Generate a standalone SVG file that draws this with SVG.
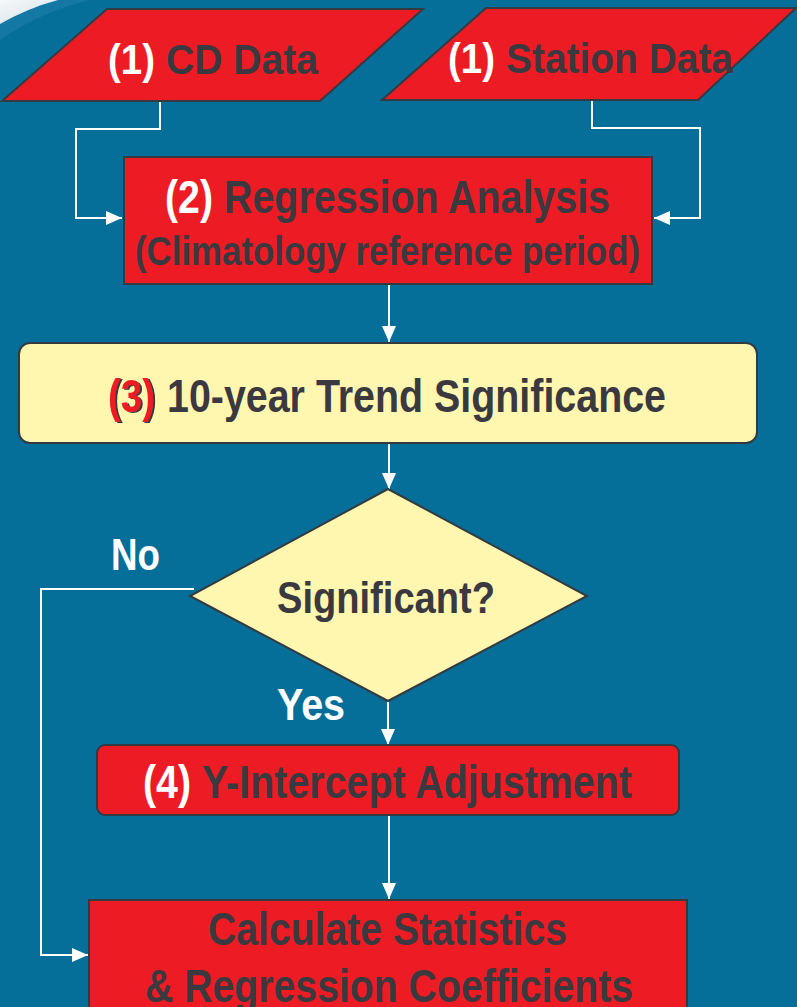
<svg xmlns="http://www.w3.org/2000/svg" width="797" height="1007" viewBox="0 0 797 1007">
<defs>
<style>
.bg{fill:#066f99}
.red{fill:#ed1c24;stroke:#333a40;stroke-width:2}
.yel{fill:#fff6b0;stroke:#333a40;stroke-width:2}
.t{font-family:"Liberation Sans",Arial,sans-serif;font-weight:bold;fill:#3a393f}
.w{fill:#ffffff}
.r{fill:#ed1c24}
.lbl{font-family:"Liberation Sans",Arial,sans-serif;font-weight:bold;fill:#ffffff}
.c{fill:none;stroke:#ffffff;stroke-width:2}
</style>
<marker id="ah" viewBox="0 0 16 14" refX="16" refY="7" markerWidth="16" markerHeight="14" markerUnits="userSpaceOnUse" orient="auto">
<path d="M0,0 L16,7 L0,14 Z" fill="#ffffff"/>
</marker>
<linearGradient id="sw" x1="0" y1="0" x2="0.75" y2="0.9">
<stop offset="0" stop-color="#f6f7f8"/>
<stop offset="0.6" stop-color="#e4ecf0"/>
<stop offset="1" stop-color="#9cd0e0"/>
</linearGradient>
<filter id="ds" x="-10%" y="-10%" width="130%" height="130%">
<feFlood flood-color="#3a393f"/>
<feComposite in2="SourceAlpha" operator="in"/>
<feOffset dx="2" dy="1" result="s"/>
<feMerge><feMergeNode in="s"/><feMergeNode in="SourceGraphic"/></feMerge>
</filter>
</defs>
<rect class="bg" x="0" y="0" width="797" height="1007"/>
<path d="M0,0 L90,0 Q40,12 0,40 Z" fill="#1a7ea8" opacity="0.7"/>
<path d="M0,0 L58,0 Q28,8 0,24 Z" fill="url(#sw)"/>

<g id="connectors">
<path class="c" d="M160,101 V129 H76 V218 H122" marker-end="url(#ah)"/>
<path class="c" d="M592,100 V128 H700 V218 H654" marker-end="url(#ah)"/>
<path class="c" d="M389,284 V342" marker-end="url(#ah)"/>
<path class="c" d="M389,443 V489" marker-end="url(#ah)"/>
<path class="c" d="M194,589 H41 V955 H88" marker-end="url(#ah)"/>
<path class="c" d="M388,701 V745" marker-end="url(#ah)"/>
<path class="c" d="M389,815 V899" marker-end="url(#ah)"/>
</g>

<g id="cd-data">
<polygon class="red" points="107,9 423,9 320,101 2,101"/>
<text class="t w" x="108" y="74" font-size="42" textLength="47" lengthAdjust="spacingAndGlyphs">(1)</text>
<text class="t" x="166" y="74" font-size="42" textLength="152" lengthAdjust="spacingAndGlyphs">CD Data</text>
</g>

<g id="station-data">
<polygon class="red" points="486,8 796,8 698,100 382,100"/>
<text class="t w" x="448" y="73" font-size="42" textLength="47" lengthAdjust="spacingAndGlyphs">(1)</text>
<text class="t" x="506" y="73" font-size="42" textLength="227" lengthAdjust="spacingAndGlyphs">Station Data</text>
</g>

<g id="regression">
<rect class="red" x="124" y="157" width="528" height="127"/>
<text class="t w" x="165" y="213" font-size="47" textLength="48" lengthAdjust="spacingAndGlyphs">(2)</text>
<text class="t" x="224" y="213" font-size="47" textLength="386" lengthAdjust="spacingAndGlyphs">Regression Analysis</text>
<text class="t" x="135" y="265" font-size="41" textLength="505" lengthAdjust="spacingAndGlyphs">(Climatology reference period)</text>
</g>

<g id="trend">
<rect class="yel" x="19" y="343" width="738" height="100" rx="11" ry="11"/>
<text class="t r" x="108" y="412" font-size="47" textLength="47" lengthAdjust="spacingAndGlyphs" filter="url(#ds)">(3)</text>
<text class="t" x="167" y="412" font-size="47" textLength="499" lengthAdjust="spacingAndGlyphs">10-year Trend Significance</text>
</g>

<g id="significant">
<polygon class="yel" points="388,489 587,596 388,701 190,596"/>
<text class="t" x="277" y="613" font-size="45" textLength="218" lengthAdjust="spacingAndGlyphs">Significant?</text>
</g>

<g id="labels">
<text class="lbl" x="111" y="570" font-size="44" textLength="49" lengthAdjust="spacingAndGlyphs">No</text>
<text class="lbl" x="277" y="720" font-size="44" textLength="68" lengthAdjust="spacingAndGlyphs">Yes</text>
</g>

<g id="intercept">
<rect class="red" x="97" y="745" width="582" height="70" rx="8" ry="8"/>
<text class="t w" x="143" y="798" font-size="46" textLength="48" lengthAdjust="spacingAndGlyphs">(4)</text>
<text class="t" x="202" y="798" font-size="46" textLength="430" lengthAdjust="spacingAndGlyphs">Y-Intercept Adjustment</text>
</g>

<g id="calculate">
<rect class="red" x="89" y="900" width="598" height="120"/>
<text class="t" x="208" y="945" font-size="47" textLength="359" lengthAdjust="spacingAndGlyphs">Calculate Statistics</text>
<text class="t" x="145" y="1002" font-size="47" textLength="488" lengthAdjust="spacingAndGlyphs">&amp; Regression Coefficients</text>
</g>
</svg>
